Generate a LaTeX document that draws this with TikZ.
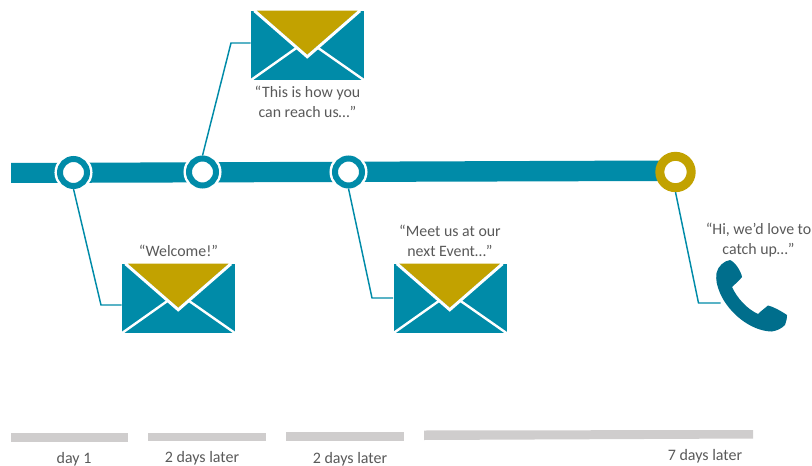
\documentclass[tikz,border=0pt]{standalone}
\usepackage{fontspec}
\setmainfont{Carlito}
\usetikzlibrary{positioning, calc}

\definecolor{trackteal}{HTML}{008BA8}
\definecolor{phoneteal}{HTML}{006E8C}
\definecolor{flapgold}{HTML}{C2A200}
\definecolor{bargray}{HTML}{CFCDCD}
\definecolor{textgray}{HTML}{595959}

\begin{document}
\begin{tikzpicture}[
    x=0.75pt, y=-0.75pt,
    stopring/.style={circle, draw=trackteal, fill=white, line width=4.5pt, minimum size=20.25pt,
                     inner sep=0pt, preaction={draw=white, line width=8.25pt}},
    goldring/.style={circle, draw=flapgold, fill=white, line width=6.75pt, minimum size=23.5pt,
                     inner sep=0pt},
    mailbox/.style={fill=trackteal, minimum width=84.75pt, minimum height=51.75pt, inner sep=0pt},
    link/.style={draw=trackteal, line width=1.1pt},
    quote/.style={font=\fontsize{11.9}{15}\selectfont, text=textgray, align=center, inner sep=0pt},
    period/.style={fill=bargray, inner sep=0pt},
    daylabel/.style={font=\fontsize{12}{14}\selectfont, text=textgray, inner sep=0pt},
]
    \useasboundingbox (0,0) rectangle (812,466);

    %==================== TIMELINE ====================
    \fill[trackteal] (11,163) -- (660,160.5) -- (660,181) -- (11,183) -- cycle;
    \node[stopring] (stop1) at (73.5,172.5) {};
    \node[stopring] (stop2) at (202.5,172) {};
    \node[stopring] (stop3) at (348.5,172) {};
    \node[goldring] (stop4) at (675.5,172) {};

    %==================== ENVELOPES ====================
    \node[mailbox] (mail1) at (178.5,298.5) {};
    \node[mailbox] (mail2) at (307.5,45.5) {};
    \node[mailbox] (mail3) at (450,298.5) {};
    \foreach \mail in {mail1, mail2, mail3} {
        \fill[flapgold] ($(\mail.north west)+(6,0)$) -- ($(\mail.north west)+(107,0)$)
            -- ($(\mail.north west)+(56.5,44)$) -- cycle;
        \draw[white, line width=2.25pt] ($(\mail.north west)+(3.7,0)$) -- ($(\mail.north west)+(56.5,46)$)
            -- ($(\mail.north west)+(109.3,0)$);
        \draw[white, line width=1.8pt] (\mail.south west) -- ($(\mail.north west)+(46,37)$);
        \draw[white, line width=1.8pt] (\mail.south east) -- ($(\mail.north west)+(67,37)$);
    }

    %==================== PHONE ====================
    \fill[phoneteal] (716.5,273) .. controls (718,266) and (724,261) .. (730,260)
        .. controls (735,262) and (741,271) .. (742,277)
        .. controls (739,281) and (735,284) .. (732,287)
        .. controls (737,298) and (747,309) .. (758,314)
        .. controls (761,311) and (765,308) .. (768,305.5)
        .. controls (774,307) and (781,311) .. (787,315)
        .. controls (787,319) and (786,322) .. (785,325)
        .. controls (781,329) and (776,331) .. (771.5,331.5)
        .. controls (750,331) and (728,312) .. (720,293)
        .. controls (717,286) and (715.5,280) .. (716.5,273) -- cycle;
    \coordinate (phone) at (720.5,303);

    %==================== CONNECTORS ====================
    \coordinate (elbow1) at (101,305);
    \coordinate (elbow2) at (231,43);
    \coordinate (elbow3) at (372,298);
    \coordinate (elbow4) at (698.5,303);
    \draw[link] (stop1.south) -- (elbow1) -- (elbow1 -| mail1.west);
    \draw[link] (stop2.north) -- (elbow2) -- (elbow2 -| mail2.west);
    \draw[link] (stop3.south) -- (elbow3) -- (elbow3 -| mail3.west);
    \draw[link] (stop4.south) -- (elbow4) -- (phone);

    %==================== QUOTES ====================
    \node[quote, above=5.5pt of mail1] (say1) {“Welcome!”};
    \node[quote, below=4.5pt of mail2] (say2) {“This is how you\\can reach us…”};
    \node[quote, above=4.8pt of mail3] (say3) {“Meet us at our\\next Event…”};
    \node[quote] (say4) at (758.5,240) {“Hi, we’d love to\\catch up…”};

    %==================== PERIODS ====================
    \path[period] (11,433) rectangle (128,441.5);
    \path[period] (148,432.5) rectangle (266,441);
    \path[period] (286,431.5) rectangle (404,440.5);
    \path[period] (424,430.5) -- (753,430) -- (753,438.5) -- (424,440) -- cycle;
    \node[daylabel] (day1) at (74,459) {day 1};
    \node[daylabel] (day2) at (202,458) {2 days later};
    \node[daylabel] (day3) at (350,459) {2 days later};
    \node[daylabel] (day4) at (705,456) {7 days later};

\end{tikzpicture}
\end{document}
